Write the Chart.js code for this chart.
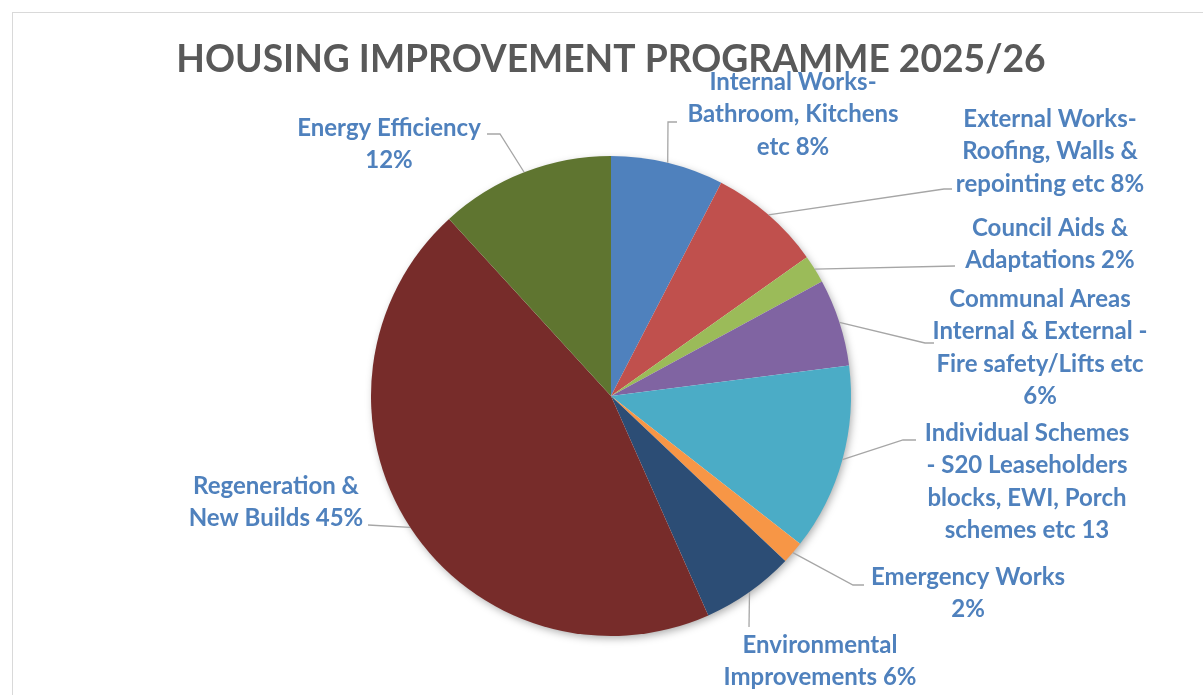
<!DOCTYPE html>
<html>
<head>
<meta charset="utf-8">
<script src="https://cdn.jsdelivr.net/npm/chart.js@4"></script>
<style>
  html, body { margin: 0; padding: 0; background: #fff; }
  #wrap { width: 1203px; height: 695px; }
</style>
</head>
<body>
<div id="wrap"><canvas id="pieChart" width="1203" height="695"></canvas></div>
<script>
const categories = [
    "Internal Works- Bathroom, Kitchens etc",
    "External Works- Roofing, Walls & repointing etc",
    "Council Aids & Adaptations",
    "Communal Areas Internal & External - Fire safety/Lifts etc",
    "Individual Schemes - S20 Leaseholders blocks, EWI, Porch schemes etc",
    "Emergency Works",
    "Environmental Improvements",
    "Regeneration & New Builds",
    "Energy Efficiency",
]
const shares = [7.6, 7.6, 1.9, 5.9, 12.6, 1.5, 6.3, 44.9, 11.8]
const labelLines = [
    ["Internal Works-", "Bathroom, Kitchens", "etc 8%"],
    ["External Works-", "Roofing, Walls &", "repointing etc 8%"],
    ["Council Aids &", "Adaptations 2%"],
    ["Communal Areas", "Internal & External -", "Fire safety/Lifts etc", "6%"],
    ["Individual Schemes", "- S20 Leaseholders", "blocks, EWI, Porch", "schemes etc 13"],
    ["Emergency Works", "2%"],
    ["Environmental", "Improvements 6%"],
    ["Regeneration &", "New Builds 45%"],
    ["Energy Efficiency", "12%"],
]
const sliceColors = ["#4F81BD", "#C0504D", "#9BBB59", "#8064A2", "#4BACC6", "#F79646", "#2C4D75", "#772C2A", "#5F7530"]

// label placement: text centre x, first line y, and leader elbow points
const labelPos = [
    { x: 793, y: 82, path: [[668, 122], [677, 122]] },
    { x: 1050, y: 119, path: [[944, 189], [952, 189]] },
    { x: 1050, y: 228, path: [[955, 266]] },
    { x: 1040, y: 299, path: [[925, 343], [934, 343]] },
    { x: 1027, y: 433, path: [[903, 440], [916, 440]] },
    { x: 968, y: 577, path: [[853, 585], [864, 585]] },
    { x: 820, y: 645, path: [[749, 627]] },
    { x: 276, y: 486, path: [[368, 525]] },
    { x: 389, y: 128, path: [[500, 134], [487, 134]] },
]

const labelFont = "bold 24px Lato"
const lineGap = 32.5

const framePlugin = {
    id: "frame",
    beforeDraw(chart) {
        const ctx = chart.ctx
        ctx.save()
        ctx.fillStyle = "#fff"
        ctx.fillRect(0, 0, chart.width, chart.height)
        ctx.strokeStyle = "#d9d9d9"
        ctx.lineWidth = 1
        ctx.strokeRect(12.5, 12.5, chart.width + 20, chart.height + 20)
        ctx.restore()
    },
    beforeDatasetsDraw(chart) {
        const arc = chart.getDatasetMeta(0).data[0]
        const ctx = chart.ctx
        ctx.save()
        ctx.shadowColor = "rgba(0,0,0,0.35)"
        ctx.shadowBlur = 9
        ctx.shadowOffsetX = 2
        ctx.shadowOffsetY = 3
        ctx.fillStyle = "#fff"
        ctx.beginPath()
        ctx.arc(arc.x, arc.y, arc.outerRadius - 1, 0, Math.PI * 2)
        ctx.fill()
        ctx.restore()
    },
    afterDatasetsDraw(chart) {
        const ctx = chart.ctx
        const meta = chart.getDatasetMeta(0)
        ctx.save()
        // leader lines
        ctx.strokeStyle = "#a6a6a6"
        ctx.lineWidth = 1.3
        meta.data.forEach((arc, i) => {
            const mid = (arc.startAngle + arc.endAngle) / 2
            const sx = arc.x + Math.cos(mid) * arc.outerRadius
            const sy = arc.y + Math.sin(mid) * arc.outerRadius
            ctx.beginPath()
            ctx.moveTo(sx, sy)
            labelPos[i].path.forEach((p) => ctx.lineTo(p[0], p[1]))
            ctx.stroke()
        })
        // labels
        ctx.fillStyle = "#4F81BD"
        ctx.font = labelFont
        ctx.textAlign = "center"
        ctx.textBaseline = "middle"
        labelLines.forEach((lines, i) => {
            lines.forEach((t, j) => {
                ctx.fillText(t, labelPos[i].x, labelPos[i].y + j * lineGap)
            })
        })
        // title (condensed a little, like Calibri)
        ctx.fillStyle = "#595959"
        ctx.font = "bold 39px Lato"
        ctx.translate(611, 59)
        ctx.scale(0.954, 1)
        ctx.fillText("HOUSING IMPROVEMENT PROGRAMME 2025/26", 0, 0)
        ctx.restore()
    },
}

new Chart(document.getElementById("pieChart"), {
    type: "pie",
    data: {
        labels: categories,
        datasets: [
            {
                data: shares,
                backgroundColor: sliceColors,
                borderWidth: 0,
            },
        ],
    },
    options: {
        responsive: false,
        animation: false,
        layout: {
            padding: { top: 156, bottom: 59, left: 371, right: 352 },
        },
        plugins: {
            legend: { display: false },
            tooltip: { enabled: false },
        },
    },
    plugins: [framePlugin],
})
</script>
</body>
</html>
